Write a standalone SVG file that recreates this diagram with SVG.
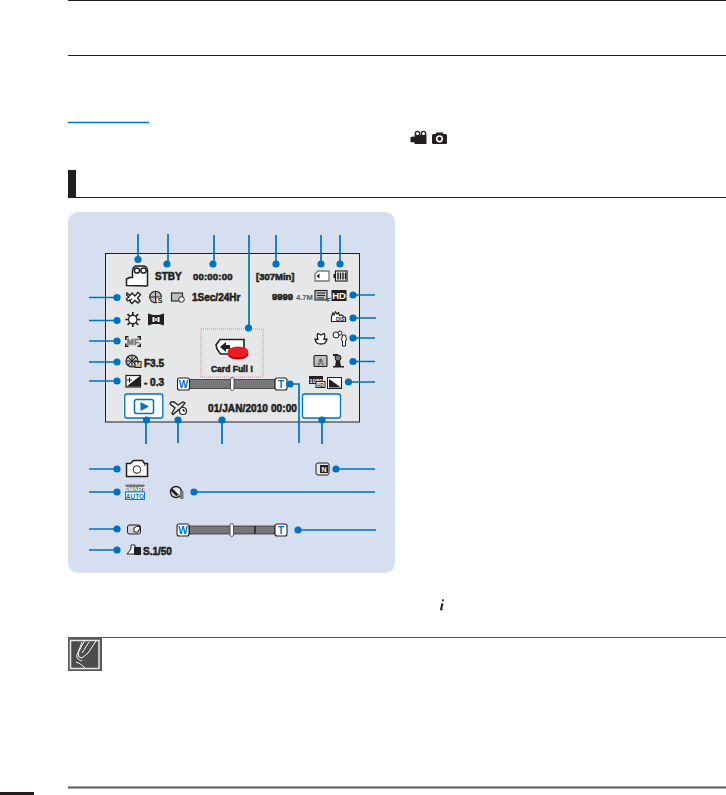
<svg xmlns="http://www.w3.org/2000/svg" width="726" height="795" viewBox="0 0 726 795">
<style>
.ld{stroke:#0071bc;stroke-width:1.7;fill:none}
.dot{fill:#0071bc}
.t{font-family:"Liberation Sans",Arial,sans-serif;font-weight:bold;fill:#231f20;stroke:#231f20;stroke-width:.55}
.ic{fill:#fff;stroke:#231f20;stroke-width:1.200}
.ig{fill:#bcbec0;stroke:#231f20;stroke-width:1.100}
.k{fill:#231f20}
.btn{fill:#fff;stroke:#231f20;stroke-width:1.100}
.wt{font-family:"Liberation Sans",Arial,sans-serif;font-weight:bold;font-size:10px;fill:#0071bc;text-anchor:middle}
.bar{fill:#77787b;stroke:#231f20;stroke-width:.7}
.h{stroke:#231f20;stroke-width:1;fill:none}
.s{font-family:"Liberation Sans",Arial,sans-serif;font-weight:bold;text-anchor:middle}
</style>
<rect width="726" height="795" fill="#fff"/>
<g id="page-rules">
<path class="h" d="M68 .5H726M68 55.5H726"/>
<path d="M68 122.500H149" stroke="#0071bc" stroke-width="1.300" fill="none"/>
<rect x="68" y="170" width="8" height="28" fill="#231f20"/>
<path d="M68 197.500H726" stroke="#231f20" stroke-width="1.200"/>
<path d="M68 637.500H726" stroke="#58595b" stroke-width="1.200"/>
<path d="M68 787.500H726" stroke="#58595b" stroke-width="1.800"/>
<rect x="0" y="792" width="34" height="3" fill="#231f20"/>
</g>
<g id="mode-icons">
<path class="k" d="M410.500 137l3-.5 1 .5v-2h12v9h-12v-2l-1 .5-3-.5z"/><circle cx="417.500" cy="133.500" r="2.200" fill="none" stroke="#231f20" stroke-width="1.300"/><circle cx="423.500" cy="133.500" r="2.200" fill="none" stroke="#231f20" stroke-width="1.300"/>
<rect x="432" y="134" width="15" height="10" rx="1.500" class="k"/><rect x="436" y="132.500" width="7" height="2" class="k"/><circle cx="439.500" cy="138.800" r="2.800" fill="none" stroke="#fff" stroke-width="1.600"/>
</g>
<g id="info-icon"><path class="k" d="M441 603.500h2.500l-1.300 5.500q0 .8 1 .2l-.2.600q-2.500 1.500-3-.2l1.100-5zM442.200 601a1 1 0 1 1 .1.100z"/></g>
<g id="note-icon">
<rect x="68" y="638" width="34" height="33" fill="#58595b"/>
<rect x="70.500" y="640.500" width="28.500" height="28" fill="#4d4d4f" stroke="#e6e7e8" stroke-width="1.500"/>
<path d="M85 640l-7 13 1 4 3 1 6-5 8-12M82 642l-4 11M89 642l-7 11M78 653c-3 4 0 7 4 8M76 662c3 1 6 3 9 6" stroke="#fff" stroke-width="1" fill="none"/>
</g>
<g id="panel">
<rect x="68" y="212" width="327" height="361" rx="10" fill="#d5dff0"/>
<rect x="105.500" y="253.500" width="254" height="168.500" fill="#e6e7e9" stroke="#231f20" stroke-width="1"/>
</g>
<g id="icon-camcorder"><path fill="#fff" stroke="#231f20" stroke-width="1.500" d="M126.500 285.500v-6.500l3-1.500h3V271q0-5 5-5h5q5 0 5 5v14.500l-1 .5z"/><circle cx="137" cy="270.500" r="2.600" fill="#fff" stroke="#231f20" stroke-width="1.500"/><circle cx="143.500" cy="270.500" r="2.600" fill="#fff" stroke="#231f20" stroke-width="1.500"/></g>
<g id="text-stby"><text class="t" x="155" y="280" font-size="10">STBY</text></g>
<g id="text-time"><text class="t" x="193" y="280" font-size="9.500" letter-spacing=".2">00:00:00</text></g>
<g id="text-remaining"><text class="t" x="256" y="280" font-size="9.500">[307Min]</text></g>
<g id="icon-card"><path fill="#fff" stroke="#77787b" stroke-width="1.300" d="M318 271h11v10h-14v-7z"/><path class="k" d="M316.500 276l3-2.500v5z"/></g>
<g id="icon-battery"><rect x="335.500" y="271" width="11.500" height="10" fill="#fff" stroke="#231f20" stroke-width="1.200"/><rect x="333.500" y="274" width="2" height="4" class="k"/><path stroke="#231f20" stroke-width="1.500" d="M338 272.500v7M340.500 272.500v7M343 272.500v7M345.500 272.500v7"/></g>
<g id="row2-left">
<path fill="#fff" stroke="#231f20" stroke-width="1.300" d="M127 293l3 2.500 2-2.500 3 3 3-3.500 2.500 2-3 3.500 2.500 3-2 2-3-2.500-3 3-2-2 1-2-3.500 1.500-1-2 2.500-2-2.500-2z"/>
<circle cx="155.500" cy="297" r="5.800" class="ig"/><path stroke="#231f20" d="M150 297h11M155.500 291.500v11"/><circle cx="160" cy="300.500" r="3.200" fill="#e6e7e9" stroke="none"/><text class="s" x="160" y="303" font-size="7" fill="#231f20">S</text>
<rect x="171.500" y="293" width="11" height="8" class="ig"/><circle cx="181.500" cy="299.500" r="2.800" fill="#fff" stroke="#231f20"/>
<text class="t" x="192" y="300.500" font-size="10">1Sec/24Hr</text>
</g>
<g id="row2-right">
<text class="t" x="272" y="299.500" font-size="9.500">9999</text>
<text x="296" y="299.500" font-family="Liberation Sans" font-weight="bold" font-size="8" fill="#58595b" textLength="17" lengthAdjust="spacingAndGlyphs">4.7M</text>
<rect x="315" y="290.500" width="12" height="9.500" class="ig"/><path stroke="#231f20" d="M317 293h8M317 295.500h8M317 298h7"/>
<text x="327" y="301.500" font-family="Liberation Sans" font-size="6" font-weight="bold" fill="#231f20">F</text>
<rect x="331.500" y="290" width="15" height="11" fill="#231f20"/><text class="s" x="339" y="299" font-size="9.500" fill="#fff">HD</text>
</g>
<g id="row3-left">
<circle cx="132.800" cy="319.500" r="4.200" fill="#fff" stroke="#231f20" stroke-width="1.200"/>
<path stroke="#231f20" stroke-width="1.700" d="M132.800 312v3.500M132.800 323.500v3.500M125.300 319.500h3.500M136.800 319.500h3.500M127.500 314.200l2.300 2.300M135.800 322.500l2.300 2.300M138.100 314.200l-2.300 2.300M129.800 322.500l-2.300 2.300"/>
<path class="k" d="M148 313.500l5 1.500h6l5-1.500v12l-5-1.500h-6l-5 1.500z"/><path fill="#fff" d="M152.500 317h2v5h-2zM157.500 317h2v5h-2zM155.300 318h1.400v3h-1.400z"/>
</g>
<g id="icon-stab"><path fill="#fff" stroke="#231f20" stroke-width="1.200" d="M331.500 321.500v-5l1.500-3.500 1 2 1.500-3 1.500 2 1.500-1.500 1 3 2-.5 2 1.500 2 1v4h-6z"/><text class="s" x="340" y="321" font-size="5" fill="#231f20">OIS</text></g>
<g id="row4-left">
<path class="k" d="M125 336h3.500v1.500h-2V340H125zM125 347v-3.500h1.500v2h2v1.500zM137.500 336h3.500v4h-1.500v-2.500h-2zM137.500 347h3.500v-3.500h-1.500v2h-2z"/>
<text class="s" x="133" y="345" font-size="8.500" fill="#6d6e71" stroke="#6d6e71" stroke-width=".3">MF</text>
</g>
<g id="row4-right">
<path fill="#fff" stroke="#231f20" stroke-width="1.300" d="M321 344c-4 0-5-1-6-5l3 .5c-1-3-1-5 0-6l3 1.500 3-1.500c1 1 1 3 0 6l3-.5c-1 4-2 5-6 5z"/>
<circle cx="336" cy="335" r="3" fill="#fff" stroke="#231f20"/><circle cx="340" cy="333" r="2" fill="#fff" stroke="#231f20"/><path fill="#fff" stroke="#231f20" d="M342.500 335h3l1 5-1 1v5h-3v-5l-1-1z"/>
</g>
<g id="row5-left">
<circle cx="132" cy="361" r="6" fill="#bcbec0" stroke="#231f20" stroke-width="1.200"/><path stroke="#231f20" d="M132 355v12M126 361h12M128 357l8 8M136 357l-8 8"/>
<rect x="134.500" y="361" width="7" height="7" fill="#231f20"/><text class="s" x="138" y="367" font-size="6.500" fill="#fff">M</text>
<text class="t" x="144" y="367" font-size="10">F3.5</text>
</g>
<g id="row5-right">
<rect x="314" y="355.500" width="13" height="11" rx="1" class="ig"/><text class="s" x="320.500" y="364.500" font-size="8.500" fill="#fff" stroke="#231f20" stroke-width=".5">A</text>
<circle cx="338" cy="358" r="3" fill="#77787b" stroke="#231f20"/><path class="k" d="M333 354h5v2h-5zM336 361h4l1 5h3v1.500h-11V366h2z"/>
</g>
<g id="row6-left">
<rect x="126" y="375.500" width="14.500" height="11.500" fill="#fff" stroke="#231f20" stroke-width="1.200"/><path class="k" d="M140 376v10.500h-13.500z"/><path d="M129.500 377.500v5M127 380h5" stroke="#231f20"/>
<text class="t" x="144" y="385.500" font-size="10">- 0.3</text>
</g>
<g id="row6-right">
<rect x="309" y="376" width="14" height="8" fill="#231f20"/><text class="s" x="316" y="382.500" font-size="6" fill="#fff">1080</text>
<rect x="316" y="381.500" width="9" height="6" fill="#fff" stroke="#231f20"/><text class="s" x="320.500" y="386.500" font-size="4.500" fill="#231f20">HD</text>
<rect x="327.500" y="377.500" width="14" height="11" fill="#fff" stroke="#231f20"/><path class="k" d="M329 379l12 8.500h-12z"/>
</g>
<g id="card-full">
<rect x="201" y="329" width="62" height="48" fill="none" stroke="#c2757a" stroke-width=".8" stroke-dasharray="1 1"/>
<path fill="#fff" stroke="#231f20" stroke-width="1.600" d="M220 339.500h24V354h-23.500l-3.500-5-1-4z"/>
<path class="k" d="M220 347l6-5v3h4v4h-4v3z"/>
<ellipse cx="238" cy="354" rx="10.500" ry="5.500" fill="#a5080f"/><ellipse cx="238" cy="352" rx="10.500" ry="5.500" fill="#ed1c24"/>
<text class="t" x="232" y="372" font-size="8.500" text-anchor="middle">Card Full !</text>
</g>
<g id="zoom-upper">
<rect x="189" y="379.500" width="86" height="9" class="bar"/>
<rect x="230.500" y="377.500" width="3.500" height="13" rx="1.700" fill="#fff" stroke="#231f20" stroke-width=".7"/>
<rect x="177.500" y="378" width="12" height="12" rx="2" class="btn"/><text class="wt" x="183.500" y="388">W</text>
<rect x="275" y="378" width="12" height="12" rx="2" class="btn"/><text class="wt" x="281" y="388">T</text>
</g>
<g id="play-button">
<rect x="124.800" y="394" width="38" height="24" rx="2" fill="#fff" stroke="#0071bc" stroke-width="1.300"/>
<rect x="134.500" y="399.500" width="19" height="14" rx="2" fill="#fff" stroke="#0071bc" stroke-width="1.500"/>
<path fill="#0071bc" d="M140.500 402l8.500 4.500-8.500 4.500z"/>
</g>
<g id="icon-plane"><path fill="#e6e7e9" stroke="#231f20" stroke-width="1.300" d="M171 402h3l4 3 5-3 2 1-4 5 2 3-2 .5-2-2-6 5-1-1.500 3-5-5-4z"/><circle cx="183" cy="411" r="3.500" fill="#fff" stroke="#231f20" stroke-width="1.200"/><path stroke="#231f20" d="M183 409v2h2"/></g>
<g id="text-date"><text class="t" x="208" y="412" font-size="10" letter-spacing=".1">01/JAN/2010 00:00</text></g>
<g id="blank-button"><rect x="302.500" y="394" width="38" height="24" rx="2" fill="#fff" stroke="#0071bc" stroke-width="1.300"/></g>
<g id="icon-photo"><path fill="#fff" stroke="#231f20" stroke-width="1.500" d="M126.500 476.500v-13h4l3-3h9l2 3h3v13z"/><circle cx="137" cy="469.500" r="3.800" fill="#fff" stroke="#231f20"/><path stroke="#231f20" d="M144 465h2"/></g>
<g id="icon-smart"><rect x="125.500" y="484.500" width="19" height="7" fill="#77787b"/><text class="s" x="135" y="490.500" font-size="6" fill="#fff">SMART</text><rect x="125.500" y="492" width="19" height="7.500" fill="#fff" stroke="#0071bc" stroke-width=".9"/><text class="s" x="135" y="498.500" font-size="6.500" fill="#0071bc">AUTO</text></g>
<g id="icon-macro"><circle cx="176" cy="492" r="5.500" fill="#e6e7e9" stroke="#231f20" stroke-width="1.400"/><path class="k" d="M172 488l7 7-3 1-5-5z"/><rect x="180" y="491" width="3.500" height="8" fill="#77787b"/></g>
<g id="icon-mode-n"><rect x="316" y="463" width="13" height="12" rx="2" fill="#e6e7e9" stroke="#231f20"/><rect x="320" y="465" width="8" height="8" fill="#231f20"/><text class="s" x="324" y="472" font-size="7" fill="#fff">N</text></g>
<g id="icon-hand"><rect x="127.500" y="525" width="13" height="9" rx="2" fill="#d1d3d4" stroke="#231f20"/><path fill="#fff" stroke="#231f20" d="M134 532v-4l3-2 1 1 1-2 1 3-2 4z"/></g>
<g id="zoom-lower">
<rect x="189" y="526" width="86" height="8" class="bar"/><path d="M255 526v8" stroke="#231f20" stroke-width="1.500"/>
<rect x="230" y="523.500" width="3.500" height="13" rx="1.700" fill="#fff" stroke="#231f20" stroke-width=".7"/>
<rect x="177" y="524" width="12" height="12" rx="2" class="btn"/><text class="wt" x="183" y="534">W</text>
<rect x="275" y="524" width="12" height="12" rx="2" class="btn"/><text class="wt" x="281" y="534">T</text>
</g>
<g id="row-shutter">
<path fill="#fff" stroke="#231f20" d="M127 554l4-5v-4h4v9z"/><rect x="134" y="547" width="7" height="8" fill="#231f20"/>
<text class="t" x="143" y="554.500" font-size="10">S.1/50</text>
</g>
<g id="connectors">
<path class="ld" d="M138 234V259M168 234V264M214 235V264M249 235V328M276 235V264M321 235V264M340 235V264M89 297.500H117M89 320.500H117M89 341H117M89 362H117M89 381H117M375 295H353M376 318H353M375 338H353M375 361.500H353M375 382H348.500M146 444V420M178 443V420M222 444V420M290 384H299V443M322 444V420M89 469H117M89 492H117M89 529H117M89 550H117M375 469H336M375 492H194M376 530H298"/>
<g class="dot">
<circle cx="138" cy="259.500" r="3.600"/><circle cx="167" cy="264" r="3.600"/><circle cx="213" cy="264" r="3.600"/><circle cx="248.500" cy="328" r="3.600"/><circle cx="276" cy="264" r="3.600"/><circle cx="321" cy="264" r="3.600"/><circle cx="340" cy="264" r="3.600"/>
<circle cx="117" cy="297.500" r="3.600"/><circle cx="117" cy="320.500" r="3.600"/><circle cx="117" cy="341" r="3.600"/><circle cx="117" cy="362" r="3.600"/><circle cx="117" cy="381" r="3.600"/>
<circle cx="353" cy="295" r="3.600"/><circle cx="353" cy="318" r="3.600"/><circle cx="353" cy="338" r="3.600"/><circle cx="353" cy="361.500" r="3.600"/><circle cx="348.500" cy="382" r="3.600"/>
<circle cx="146.500" cy="420" r="3.600"/><circle cx="178" cy="420" r="3.600"/><circle cx="222" cy="420" r="3.600"/><circle cx="290" cy="384" r="3.600"/><circle cx="322" cy="420" r="3.600"/>
<circle cx="117" cy="469" r="3.600"/><circle cx="117" cy="492" r="3.600"/><circle cx="117" cy="529" r="3.600"/><circle cx="117" cy="550" r="3.600"/>
<circle cx="336" cy="469" r="3.600"/><circle cx="194" cy="492" r="3.600"/><circle cx="298" cy="530" r="3.600"/>
</g>
</g>
</svg>
